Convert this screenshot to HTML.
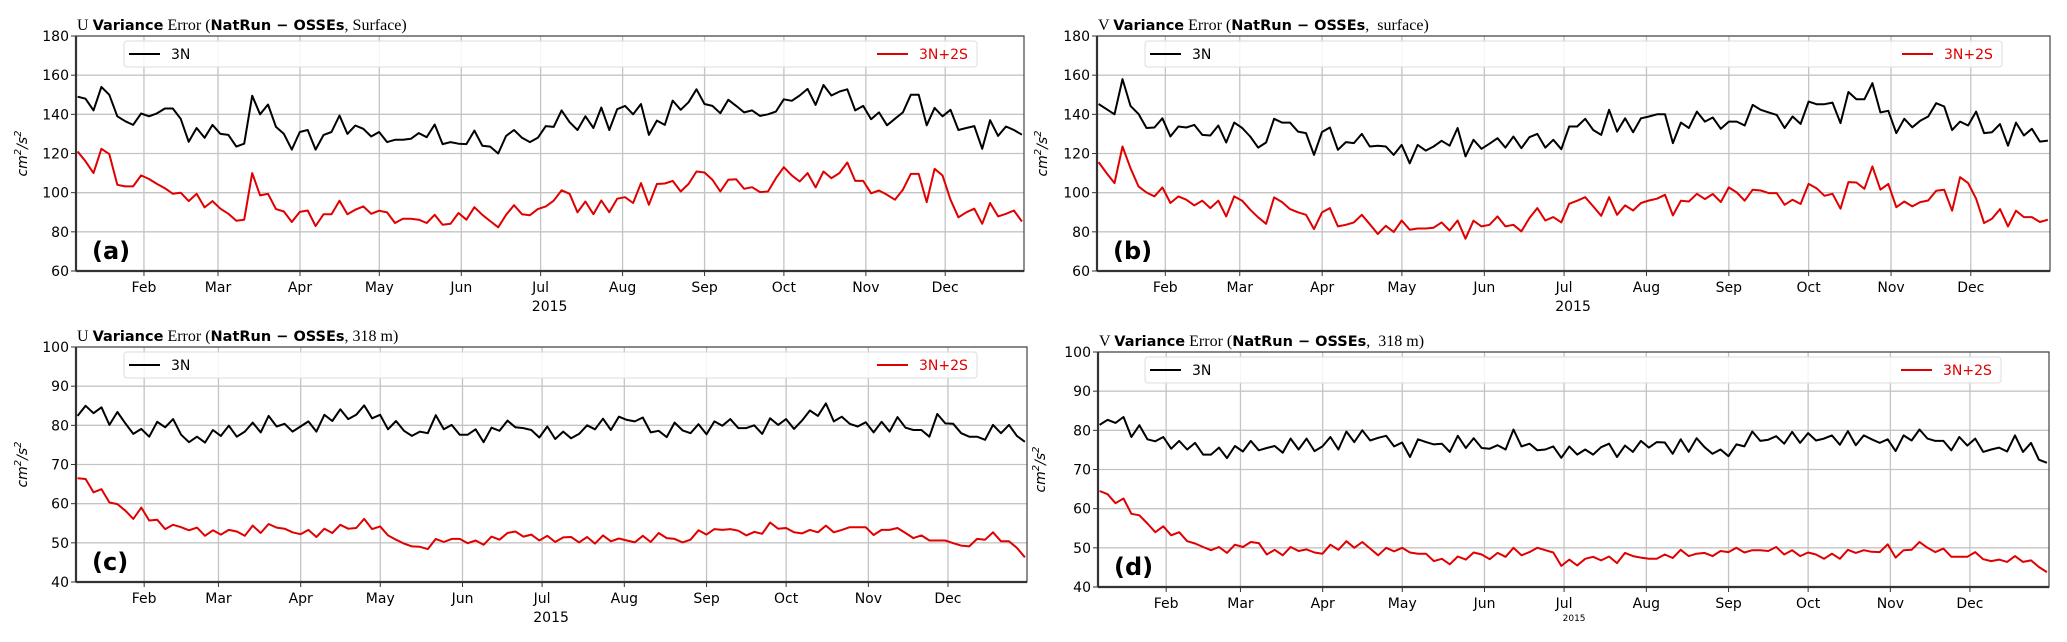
<!DOCTYPE html>
<html><head><meta charset="utf-8"><style>
html,body{margin:0;padding:0;background:#fff;}
svg{display:block;}
text{font-family:"DejaVu Sans","Liberation Sans",sans-serif;}
</style></head><body>
<svg id="chart" width="2067" height="642" viewBox="0 0 2067 642" xmlns="http://www.w3.org/2000/svg"></svg>
<script>
const months = ["Feb","Mar","Apr","May","Jun","Jul","Aug","Sep","Oct","Nov","Dec"];
const monthDays = [31,59,90,120,151,181,212,243,273,304,334];
const seriesNames = ["3N","3N+2S"];
const ticksTop = [60,80,100,120,140,160,180];
const ticksBottom = [40,50,60,70,80,90,100];

const aBlack = [149,148,142,154,150,139,136.5,134.6,140.4,139,140.5,143,143,137.7,126,133,128,134.6,130,129.5,123.5,125,149.5,140,145,133.6,130,122,131,132,122,129.5,131,139.4,130,134.3,132.6,128.7,131,125.8,127,127,127.5,130.4,128.3,134.8,124.8,125.8,125,124.8,131.7,124,123.5,
120,129,132,128,125.8,128,134,133.6,142,136,132,139,133,143.5,132,142.6,144.3,140,145.3,129.5,136.8,134.6,147,142.3,146.2,152.8,145.3,144.3,140.6,147.4,144.3,141,142,139.2,140,141.4,147.7,146.9,149.6,153,144.8,155,149.6,151.6,152.8,142,144.3,137.5,141,134.4,137.7,141,150,150,134.4,143.3,139,142.3,132,133,134,122.4,137,129,133.8,132,129.6];
const aRed = [121,116,110,122.4,119.7,104,103.2,103.2,108.8,107,104.5,102.3,99.4,100,95.7,99.4,92.5,95.7,91.8,89.2,85.7,86.2,110,98.6,99.4,91.6,90.4,85,90.2,90.9,83,89,89,95.9,89,91.3,93,89.2,90.8,89.9,84.5,86.7,86.7,86.2,84.5,88.7,83.6,84.1,89.6,86.2,92.6,88.7,85.5,
82.3,88.7,93.6,89,88.5,91.6,93,95.9,101.2,99.4,90,95.5,89,96,90,96.9,97.7,94.7,104.9,93.8,104.4,104.7,106,100.6,104.5,110.8,110.3,106.6,100.6,106.6,106.9,102,102.8,100.3,100.6,107.4,113,108.8,105.7,110,102.7,110.8,107.4,110,115.4,106,106,99.7,101.1,98.9,96.4,101.5,109.6,109.6,95.2,112.2,108.8,96.4,87.4,90,91.8,84.1,94.7,87.9,89.2,90.9,85.3];
const bBlack = [145.3,142.6,140,158,144.3,140.2,133,133.3,138,128.7,133.8,133.3,134.6,129.5,129.2,134.3,125.6,135.8,133,128.7,123,125.6,137.7,135.8,135.8,131.2,130.4,119.3,131,133.3,
121.9,125.8,125.3,130,123.6,124,123.6,119.3,124.4,115,124.4,121.5,123.6,126.5,124,133,118.5,127,122.4,125,127.8,123,128.7,122.7,128.3,130,123,127,122.2,133.8,133.8,137.7,132,129.5,142.3,131.2,138,130.9,138,138.9,140,140,125.3,135.8,133,141.4,136.3,138.4,132.6,136.3,136.3,134.3,144.8,142.3,141,139.7,133,138.9,135.1,146.5,145.2,145.2,146,135.5,151.4,147.7,147.7,155.9,141,141.8,130.4,137.7,133.4,136.7,138.9,145.7,144,132,136.3,134.3,141.4,130.4,130.9,135,124,135.8,129.2,132.6,126.1,126.6];
const bRed = [115.6,110,104.9,123.6,112.5,103.2,100.1,98.1,102.7,94.7,98.1,96.4,93.5,95.9,92.1,95.9,87.9,98.1,95.9,91.3,87.4,84.1,97.6,95.2,91.6,90,88.7,81.4,89.9,92.1,
82.8,83.6,84.8,88.7,83.9,78.9,83.1,79.9,85.8,81.1,81.7,81.7,82.1,84.8,80.7,85.8,76.5,85.7,82.8,83.6,87.9,82.8,83.6,80.2,87,92.1,85.8,87.5,84.8,94.3,95.9,97.7,93,88.2,97.7,88.7,93.5,90.9,94.7,96,96.9,98.9,88.4,95.9,95.5,99.4,96.7,99.3,95.2,102.7,100.1,95.9,101.5,101.1,99.8,99.8,93.8,96.4,94.2,104.5,102.3,98.4,99.4,91.8,105.4,105.2,102,113.4,101.5,104.5,92.6,95.5,93,95.2,96,101,101.5,90.8,107.9,104.9,96.9,84.5,86.7,91.6,82.8,90.8,87.5,87.5,85,86.2];
const cBlack = [82.4,85,83.1,84.6,80.1,83.4,80.5,77.8,79.1,77.1,80.9,79.5,81.6,77.6,75.7,77.1,75.6,78.8,77.3,79.9,77.1,78.4,80.7,78.2,82.4,79.7,80.4,78.4,79.7,81,78.4,82.7,81.1,84.1,81.6,82.7,85.1,81.8,82.7,79,81.1,78.6,77.3,78.4,78,82.6,79,80.1,77.6,77.6,79,75.7,79.4,
78.6,81.2,79.5,79.3,78.8,76.9,79.7,76.5,78.4,76.7,77.8,80,79,81.7,78.8,82.2,81.4,81,82,78.2,78.6,77,80.7,78.7,78,80.3,77.7,81,79.9,81.6,79.3,79.3,80,77.8,81.8,80.1,81.6,79.1,81.2,83.8,82.4,85.6,81,82.2,80.4,79.7,80.8,78.2,80.9,78.4,82.1,79.4,78.8,78.8,77.1,82.9,80.5,80.4,78,77.1,77.1,76.3,80.1,78,80.1,77.3,75.8];
const cRed = [66.5,66.3,62.9,63.7,60.3,59.9,58.2,56.1,59,55.7,55.9,53.5,54.6,54,53.2,53.9,51.8,53.2,52.1,53.3,52.9,51.8,54.4,52.5,54.8,53.9,53.6,52.7,52.2,53.3,51.5,53.6,52.5,54.6,53.6,53.8,56.1,53.5,54.2,51.9,50.8,49.8,49.1,49,48.4,51,50.2,51,51,49.9,50.6,49.5,51.6,
50.8,52.5,52.9,51.6,52.1,50.6,51.8,50.2,51.4,51.5,50.1,51.5,49.8,51.9,50.4,51.1,50.6,50.1,51.8,50.2,52.5,51.2,51,50.1,50.8,53.2,52.1,53.5,53.3,53.5,53.1,51.9,52.8,52.3,55.2,53.6,53.8,52.7,52.4,53.3,52.7,54.4,52.7,53.3,54,54,54,52,53.3,53.3,53.8,52.5,51.2,51.9,50.6,50.6,50.6,49.9,49.3,49.1,51,50.8,52.7,50.4,50.4,48.7,46.3];
const dBlack = [81.4,82.7,81.9,83.4,78.3,81.3,77.7,77.2,78.3,75.3,77.3,75.1,76.8,73.8,73.8,75.6,72.9,76,74.6,77.3,74.9,75.5,76,74.3,77.9,75.1,77.9,74.7,75.9,78.3,75.1,79.7,77,80,77.4,78.1,78.6,75.9,76.9,73.2,77.7,77,76.4,76.6,74.5,78.6,75.5,78,75.5,75.3,76.2,75.1,80.2,75.9,76.6,74.9,
75.1,75.9,73,75.9,73.8,75.1,73.8,75.7,76.6,73.2,76.1,74.5,77.3,75.6,77,76.9,74,77.7,74.5,78,75.7,74,75.1,73.4,76.4,75.9,79.7,77.3,77.6,78.5,76.6,79.6,76.8,79.3,77.4,77.9,78.7,76.3,79.8,76.2,78.7,77.7,76.8,77.7,74.7,78.7,77.4,80.2,77.9,77.3,77.3,74.9,78.3,76.1,77.9,74.5,75.1,75.6,74.6,78.7,74.5,76.8,72.5,71.7];
const dRed = [64.5,63.7,61.4,62.6,58.7,58.3,56.2,54,55.5,53.2,54,51.7,51.1,50.2,49.4,50.2,48.7,50.8,50.2,51.5,51.2,48.3,49.5,48.1,50.2,49.2,49.6,48.8,48.5,50.8,49.5,51.7,50,51.5,49.8,48.1,50,49.1,50,48.8,48.5,48.5,46.6,47.2,45.8,47.8,47,48.8,48.3,47.1,48.7,47.7,50,48.1,48.9,50,
49.4,48.8,45.4,47,45.5,47.2,47.7,46.8,47.8,46.1,48.7,47.9,47.5,47.2,47.2,48.3,47.4,49.5,47.9,48.5,48.7,47.9,49.2,48.9,50,48.8,49.4,49.4,49.2,50.2,48.3,49.4,47.9,48.8,48.3,47.2,48.5,47.2,49.5,48.7,49.4,49,48.9,50.9,47.5,49.4,49.5,51.5,50,48.9,49.8,47.7,47.7,47.7,48.9,47.1,46.6,47,46.4,47.9,46.4,46.8,45.1,43.8];

const NS="http://www.w3.org/2000/svg";
const svg=document.getElementById('chart');
function mk(tag,attrs,parent){const e=document.createElementNS(NS,tag);for(const k in attrs)e.setAttribute(k,attrs[k]);(parent||svg).appendChild(e);return e;}

const panels=[
 {id:'a',L:76,R:1024,T:36,B:271,ymin:60,ymax:180,ticks:ticksTop,black:aBlack,red:aRed,var:'U',lvl:'Surface',lvlSep:', ',ylx:27,legL:124,legR:977,small2015:false},
 {id:'b',L:1097,R:2050,T:36,B:271,ymin:60,ymax:180,ticks:ticksTop,black:bBlack,red:bRed,var:'V',lvl:'surface',lvlSep:',  ',ylx:1047,legL:1145,legR:2002,small2015:false},
 {id:'c',L:76,R:1027,T:347,B:582,ymin:40,ymax:100,ticks:ticksBottom,black:cBlack,red:cRed,var:'U',lvl:'318 m',lvlSep:', ',ylx:27,legL:124,legR:977,small2015:false},
 {id:'d',L:1098,R:2049,T:352,B:587,ymin:40,ymax:100,ticks:ticksBottom,black:dBlack,red:dRed,var:'V',lvl:'318 m',lvlSep:',  ',ylx:1045,legL:1145,legR:2001,small2015:true}
];
const DMIN=5.3, DMAX=363.8, SSTART=5.9, SEND=363;

panels.forEach(p=>{
 const g=mk('g',{});
 
 
 const xs=d=>p.L+(d-DMIN)/(DMAX-DMIN)*(p.R-p.L);
 const ys=v=>p.B-(v-p.ymin)/(p.ymax-p.ymin)*(p.B-p.T);
 p.ticks.forEach(t=>{
  const l=mk('line',{x1:p.L,x2:p.R,y1:ys(t),y2:ys(t),stroke:'#c4c4c4','stroke-width':1.3},g);
  
  
  mk('line',{x1:p.L-5,x2:p.L,y1:ys(t),y2:ys(t),stroke:'#333','stroke-width':1},g);
  const tx=mk('text',{x:p.L-7,y:ys(t)+5,'text-anchor':'end','font-size':14,fill:'#000'},g);
  tx.textContent=t;
  
  
 });
 monthDays.forEach((d,i)=>{
  const x=xs(d);
  const l=mk('line',{x1:x,x2:x,y1:p.T,y2:p.B,stroke:'#c4c4c4','stroke-width':1.3},g);
  
  
  mk('line',{x1:x,x2:x,y1:p.B,y2:p.B+5,stroke:'#333','stroke-width':1},g);
  const tx=mk('text',{x:x,y:p.B+21,'text-anchor':'middle','font-size':14,fill:'#000'},g);
  tx.textContent=months[i];
  
  
 });
 const jul=xs(monthDays[5]);
 const yr=mk('text',p.small2015?{x:jul+10,y:p.B+34,'text-anchor':'middle','font-size':9,fill:'#000'}:{x:jul+9,y:p.B+40,'text-anchor':'middle','font-size':14,fill:'#000'},g);
 yr.textContent='2015';
 
 
 [[p.black,'#000',0],[p.red,'#e00000',1]].forEach(([arr,col,si])=>{
  const n=arr.length;
  const pts=arr.map((v,i)=>xs(SSTART+i*(SEND-SSTART)/(n-1)).toFixed(1)+','+ys(v).toFixed(1)).join(' ');
  const pl=mk('polyline',{points:pts,fill:'none',stroke:col,'stroke-width':2,'stroke-linejoin':'round'},g);
  
  
 });
 const fr=mk('rect',{x:p.L,y:p.T,width:p.R-p.L,height:p.B-p.T,fill:'none',stroke:'#444','stroke-width':1.2},g);
 
 
 mk('line',{x1:p.L,x2:p.L,y1:p.T,y2:p.B,stroke:'#333','stroke-width':2.2},g);
 mk('line',{x1:p.L,x2:p.R,y1:p.B,y2:p.B,stroke:'#333','stroke-width':2.2},g);
 const lg=mk('g',{},g);
 
 
 mk('rect',{x:p.legL,y:p.T+5,width:p.legR-p.legL,height:26,rx:3,fill:'rgba(255,255,255,0.85)',stroke:'#ddd','stroke-width':1},lg);
 const ly=p.T+18;
 const e1=mk('g',{},lg);
 
 
 mk('line',{x1:p.legL+5,x2:p.legL+36,y1:ly,y2:ly,stroke:'#000','stroke-width':2},e1);
 const t1=mk('text',{x:p.legL+47,y:ly+5,'font-size':14,fill:'#000'},e1);t1.textContent=seriesNames[0];
 const e2=mk('g',{},lg);
 
 
 mk('line',{x1:p.legR-100,x2:p.legR-69,y1:ly,y2:ly,stroke:'#e00000','stroke-width':2},e2);
 const t2=mk('text',{x:p.legR-58,y:ly+5,'font-size':14,fill:'#e00000'},e2);t2.textContent=seriesNames[1];
 const pl=mk('text',{x:p.L+16,y:p.B-12,'font-size':24,'font-weight':'bold',fill:'#000'},g);
 pl.textContent='('+p.id+')';
 
 
 const yl=mk('text',{x:0,y:0,transform:`translate(${p.ylx},${(p.T+p.B)/2}) rotate(-90)`,'text-anchor':'middle','font-size':14,'font-style':'italic',fill:'#000'},g);
 yl.innerHTML='cm<tspan dy="-6" font-size="10">2</tspan><tspan dy="6">/s</tspan><tspan dy="-6" font-size="10">2</tspan>';
 
 
 const tt=mk('text',{x:p.L+1,y:p.T-6,'font-size':14.5,fill:'#000'},g);
 
 
 tt.innerHTML=`<tspan font-family="Liberation Serif, serif" font-size="16">${p.var} </tspan><tspan font-weight="bold">Variance</tspan><tspan font-family="Liberation Serif, serif" font-size="16"> Error (</tspan><tspan font-weight="bold">NatRun  −  OSSEs</tspan><tspan font-family="Liberation Serif, serif" font-size="16" xml:space="preserve">${p.lvlSep}${p.lvl})</tspan>`;
});
</script>
</body></html>
